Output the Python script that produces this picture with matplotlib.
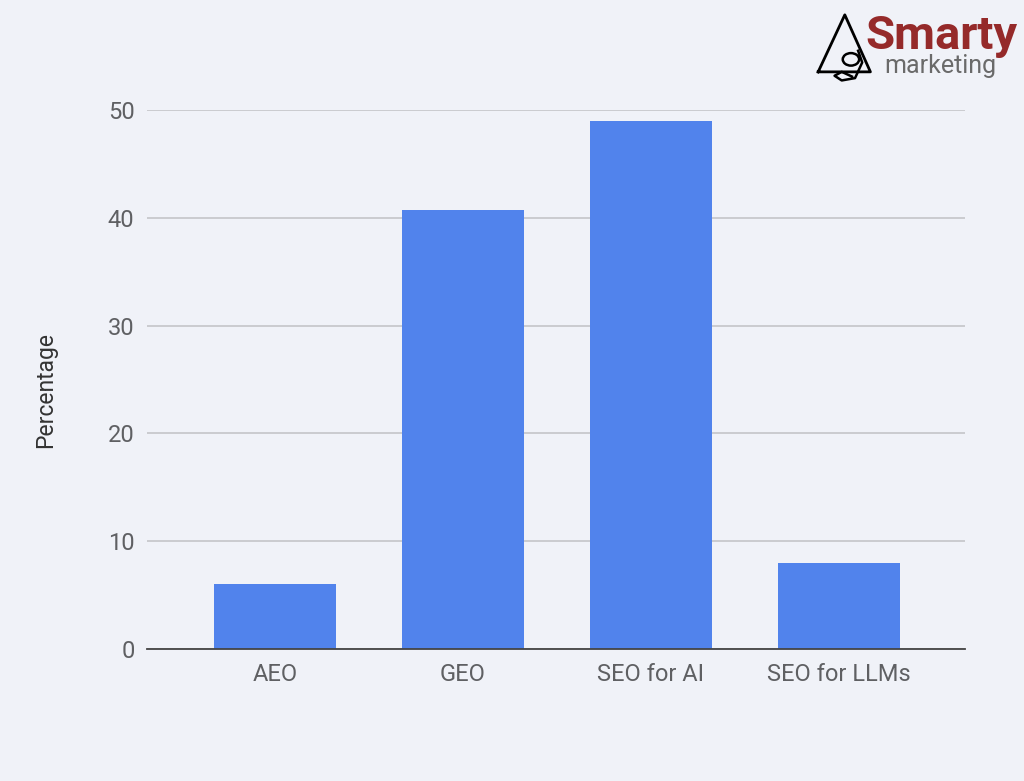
import matplotlib.pyplot as plt
import numpy as np
from matplotlib.patches import Circle

categories = ['AEO', 'GEO', 'SEO for AI', 'SEO for LLMs']
percentages = [6, 40.7, 49, 8]
yticks = [0, 10, 20, 30, 40, 50]

bg = '#f0f2f8'
bar_color = '#5183ec'
text_color = '#5f6063'

plt.rcParams['font.family'] = ['Roboto', 'DejaVu Sans']

fig = plt.figure(figsize=(10.24, 7.81), dpi=100, facecolor=bg)
ax = fig.add_axes([0.1436, 0.169, 0.7988, 0.690], facecolor=bg)

x = np.arange(len(categories))
ax.bar(x, percentages, width=0.65, color=bar_color, zorder=3)

ax.set_xlim(-0.68, 3.67)
ax.set_ylim(0, 50)
ax.set_yticks(yticks)
ax.set_xticks(x)
ax.set_xticklabels(categories)
ax.yaxis.grid(True, color='#c8c8cc', linewidth=1.3, zorder=0)
ax.tick_params(axis='both', length=0, labelsize=17, colors=text_color)
ax.tick_params(axis='x', pad=10)
ax.tick_params(axis='y', pad=9)
for s in ['top', 'right', 'left']:
    ax.spines[s].set_visible(False)
ax.spines['bottom'].set_color('#444444')
ax.spines['bottom'].set_linewidth(1.3)
ax.spines['bottom'].set_zorder(4)

fig.text(0.045, 0.5, 'Percentage', rotation=90, ha='center', va='center',
         fontsize=16.5, color='#333333')

# logo
fig.add_artist(plt.Line2D([0.799, 0.825, 0.850, 0.799], [0.908, 0.981, 0.908, 0.908],
                          transform=fig.transFigure, color='black', linewidth=2))
fig.add_artist(Circle((0.831, 0.924), 0.008, transform=fig.transFigure,
                      fill=False, edgecolor='black', linewidth=1.8))
fig.add_artist(plt.Line2D([0.838, 0.842, 0.835, 0.822, 0.815, 0.822, 0.832],
                          [0.935, 0.920, 0.900, 0.897, 0.903, 0.908, 0.902],
                          transform=fig.transFigure, color='black', linewidth=1.8))
fig.text(0.845, 0.937, 'Smarty', fontsize=34, fontweight='bold', color='#952a2a',
         ha='left', va='baseline')
fig.text(0.864, 0.906, 'marketing', fontsize=18, color='#6a6a6a', ha='left', va='baseline')

fig.savefig('out.png', dpi=100, facecolor=bg)
